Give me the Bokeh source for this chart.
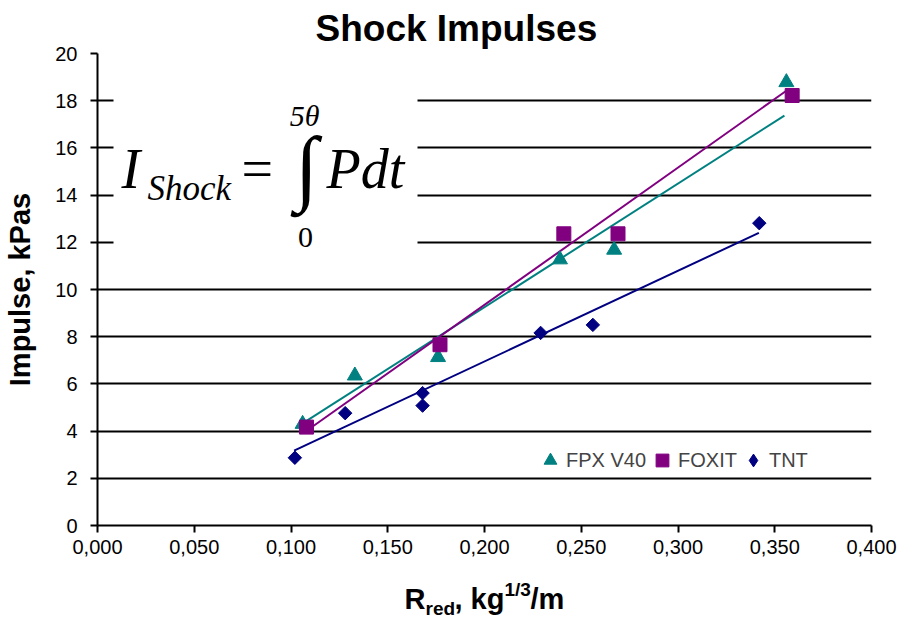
import numpy as np
from bokeh.plotting import figure
from bokeh.layouts import column
from bokeh.models import (Range1d, FixedTicker, CustomJSTickFormatter, Label,
                          BoxAnnotation, Legend, LegendItem)
from bokeh.core.properties import value
from bokeh.embed import file_html
from bokeh.resources import INLINE

# ---------------- data ----------------
fpx_x = [0.106, 0.133, 0.176, 0.239, 0.267, 0.356]
fpx_y = [4.30, 6.35, 7.13, 11.27, 11.68, 18.78]

foxit_x = [0.108, 0.177, 0.241, 0.269, 0.359]
foxit_y = [4.17, 7.66, 12.36, 12.36, 18.22]

tnt_x = [0.102, 0.128, 0.168, 0.168, 0.229, 0.256, 0.342]
tnt_y = [2.87, 4.76, 5.61, 5.08, 8.16, 8.50, 12.81]

# trend lines (end points)
fpx_trend_x = [0.104, 0.355]
fpx_trend_y = [4.22, 17.37]
foxit_trend_x = [0.107, 0.356]
foxit_trend_y = [3.95, 18.42]
tnt_trend_x = [0.1016, 0.3418]
tnt_trend_y = [3.17, 12.40]

x_ticks = [0.0, 0.05, 0.10, 0.15, 0.20, 0.25, 0.30, 0.35, 0.40]
y_ticks = [0, 2, 4, 6, 8, 10, 12, 14, 16, 18, 20]
series_names = ["FPX V40", "FOXIT", "TNT"]
title_text = "Shock Impulses"
y_label = "Impulse, kPas"
x_label_parts = ["R", "red", ", kg", "1/3", "/m"]

# ---------------- layout ----------------
W, H = 900, 619
STRIP = 49                      # strip below the chart holding the x-axis title
H1 = H - STRIP
FL, FR, FT, FB = 97, 871, 53, 525
XMIN, XMAX, YMIN, YMAX = 0.0, 0.4, 0.0, 20.0


def px2x(px):
    return XMIN + (px - FL) / (FR - FL) * (XMAX - XMIN)


def py2y(py):
    return YMIN + (FB - py) / (FB - FT) * (YMAX - YMIN)


TEAL, PURPLE, NAVY = "#008080", "#800080", "#000080"
SANS = "Liberation Sans"
SERIF = "Liberation Serif"

p = figure(width=W, height=H1, x_range=Range1d(XMIN, XMAX), y_range=Range1d(YMIN, YMAX),
           output_backend="svg", toolbar_location=None,
           min_border_left=FL, min_border_right=W - FR,
           min_border_top=FT, min_border_bottom=H1 - FB)
p.outline_line_color = None
p.background_fill_color = "white"
p.border_fill_color = "white"

# title
p.title.text = title_text
p.title.text_font = SANS
p.title.text_font_size = "37px"
p.title.text_font_style = "bold"
p.title.text_color = "black"
p.title.align = "left"
p.title.offset = 218
p.title.standoff = 9

# grid
p.xgrid.visible = False
p.ygrid.grid_line_color = "black"
p.ygrid.grid_line_width = 2
p.ygrid.ticker = FixedTicker(ticks=y_ticks)

# axes
p.xaxis.ticker = FixedTicker(ticks=x_ticks)
p.yaxis.ticker = FixedTicker(ticks=y_ticks)
p.xaxis.formatter = CustomJSTickFormatter(code="return tick.toFixed(3).replace('.', ',');")
for ax in (p.xaxis[0], p.yaxis[0]):
    ax.axis_line_color = "black"
    ax.axis_line_width = 2
    ax.major_tick_line_color = "black"
    ax.major_tick_line_width = 2
    ax.major_tick_out = 7
    ax.major_tick_in = 0
    ax.minor_tick_line_color = None
    ax.major_label_text_font = SANS
    ax.major_label_text_font_size = "20px"
    ax.major_label_text_color = "black"
p.xaxis.major_label_standoff = 7
p.yaxis.major_label_standoff = 13
p.yaxis.axis_label = y_label
p.yaxis.axis_label_text_font = SANS
p.yaxis.axis_label_text_font_style = "bold"
p.yaxis.axis_label_text_font_size = "29px"
p.yaxis.axis_label_text_color = "black"
p.yaxis.axis_label_standoff = 16

# white box behind the formula (covers grid lines there)
p.add_layout(BoxAnnotation(left=px2x(113), right=px2x(417), bottom=py2y(262), top=py2y(60),
                           fill_color="white", fill_alpha=1.0, line_alpha=0, level="underlay"))

# trend lines
p.line(fpx_trend_x, fpx_trend_y, line_color=TEAL, line_width=2)
p.line(foxit_trend_x, foxit_trend_y, line_color=PURPLE, line_width=2)
p.line(tnt_trend_x, tnt_trend_y, line_color=NAVY, line_width=2)

# markers
r_fpx = p.scatter(fpx_x, fpx_y, marker="triangle", size=15, fill_color=TEAL, line_color=TEAL)
r_foxit = p.scatter(foxit_x, foxit_y, marker="square", size=14, fill_color=PURPLE, line_color=PURPLE)
# legend key for TNT: a diamond, drawn under the first TNT marker (fully covered by it)
r_tnt_key = p.scatter(tnt_x[:1], tnt_y[:1], marker="diamond", size=12,
                      fill_color=NAVY, line_color=NAVY)
r_tnt = p.scatter(tnt_x, tnt_y, marker="square", size=9.5, angle=np.pi / 4,
                  fill_color=NAVY, line_color=NAVY)

legend = Legend(items=[LegendItem(label=series_names[0], renderers=[r_fpx]),
                       LegendItem(label=series_names[1], renderers=[r_foxit]),
                       LegendItem(label=series_names[2], renderers=[r_tnt_key])],
                orientation="horizontal", location=(534 - FL, FB - 476),
                padding=0, margin=0, spacing=0, label_standoff=0,
                glyph_width=32, glyph_height=32,
                label_text_font=SANS, label_text_font_size="20px",
                background_fill_alpha=0, border_line_color=None)
p.add_layout(legend)


# formula (y given as the wanted baseline; text is centred, so shift by 0.33*size)
def lab(txt, px, base, size, italic=True, align="left"):
    p.add_layout(Label(x=px2x(px), y=py2y(base - 0.33 * size), text=txt, text_font=SERIF,
                       text_font_size=f"{size}px",
                       text_font_style="italic" if italic else "normal",
                       text_align=align, text_baseline="middle", text_color="black"))


lab("I", 121, 187, 56)
lab("Shock", 147, 200, 35)
lab("=", 241, 187, 56, italic=False)
p.add_layout(Label(x=px2x(306), y=py2y(174 - 8), text="\u222b", text_font=SERIF,
                   text_font_size="84px", text_align="center", text_baseline="middle",
                   text_color="black"))
lab("5\u03b8", 304, 125, 30, align="center")
lab("0", 305, 247, 30, italic=False, align="center")
lab("Pdt", 326, 187, 56)

# ---------------- strip with the x-axis title ----------------
# (its frame is aligned with the chart frame by the column layout)
q = figure(width=W, height=STRIP, x_range=Range1d(FL, FR), y_range=Range1d(H, H1),
           output_backend="svg", toolbar_location=None,
           min_border_left=FL, min_border_right=W - FR, min_border_top=0, min_border_bottom=0,
           x_axis_type=None, y_axis_type=None)
q.outline_line_color = None
q.xgrid.visible = False
q.ygrid.visible = False
q.background_fill_color = "white"
q.border_fill_color = "white"

xl_px = [404, 425, 454, 504, 530]
xl_base = [608, 614, 608, 595, 608]
xl_size = [29, 19, 29, 19, 29]
for t, xp, b, s in zip(x_label_parts, xl_px, xl_base, xl_size):
    q.text(x=[xp], y=[b - 0.33 * s], text=[t], text_font=value(SANS),
           text_font_size=f"{s}px", text_font_style="bold", text_align="left",
           text_baseline="middle", text_color="black")

open("out.html", "w").write(file_html(column(p, q, spacing=0), INLINE))
